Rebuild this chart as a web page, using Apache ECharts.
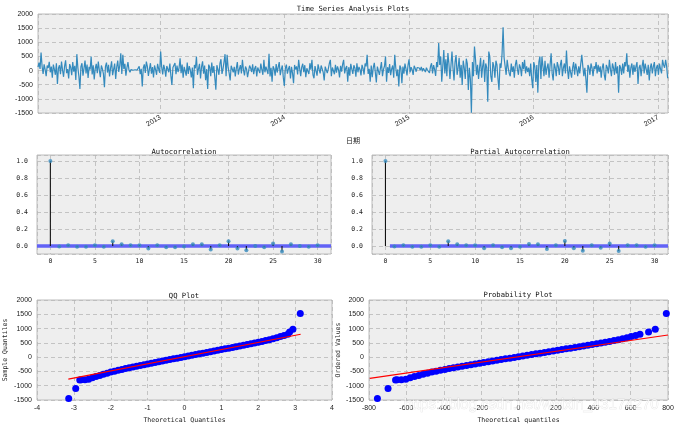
<!DOCTYPE html>
<html><head><meta charset="utf-8">
<script src="https://cdn.jsdelivr.net/npm/echarts@6/dist/echarts.min.js"></script>
<style>html,body{margin:0;padding:0;background:#fff}#c{width:677px;height:425px}</style>
</head><body><div id="c"></div>
<script>
// ---------------- DATA ----------------
const seriesStart = [2012, 0, 8];   // first observation (y, m0, d)
const seriesStepDays = 3;           // spacing between read-off observations
const tsValues = [
 120, 280, 60, 637, 150, -120, 220, 30, -200, 180,
 90, 310, -60, 140, -250, 210, 40, -150, 260, -470,
 80, 190, -130, 320, 20, -220, 150, 360, -90, 50,
 -280, 230, 110, -160, 300, -40, 170, -330, 580, 100,
 -200, -650, 140, 260, -180, 80, 350, -100, 210, -260,
 130, 40, 500, -140, 190, -310, 70, 240, -90, 320,
 10, -230, 180, 60, -120, -590, 150, 280, -70, 200,
 -210, 90, 330, -160, 40, 250, -300, 120, 350, -50,
 180, 610, -120, 555, 60, 240, -180, 100, 300, 20,
 -60, 40, 80, 10, 60, 30, 90, 20, -40, 150,
 -130, 60, -566, 90, 220, -80, 320, 140, -190, 50,
 260, -110, 120, -240, 180, 30, -150, 240, 60, -80,
 670, 120, -140, 200, 50, -220, 160, 90, -60, 250,
 -180, -507, 110, 40, 270, -130, 180, -50, 90, 436,
 -90, 210, -250, 130, 60, -180, 280, -120, 160, 20,
 -240, 110, -625, 200, 80, 500, -150, 60, 240, -280,
 130, 330, -110, 180, -340, 50, -650, 210, 120, -200,
 280, -80, 160, -260, -680, 190, 40, -150, 250, 400,
 -120, 60, 310, 580, -200, 555, 110, -90, -350, 170,
 240, -60, 130, -210, 80, 300, -140, 50, 190, -100,
 380, 20, -170, 140, 60, -230, -270, 180, 90, -50,
 220, -130, 70, 160, -210, 110, 40, -90, 250, 30,
 -150, 380, -60, 140, 200, -120, 590, -210, 100, -390,
 150, 60, -180, 230, -70, 120, 300, -160, 40, 180,
 -250, -540, 90, 210, -110, 60, 160, -280, 130, -90,
 -450, 200, 40, 150, -140, 380, 70, -200, 120, 240,
 -60, 190, -230, 80, 140, -120, 260, 30, 380, -150,
 -270, 160, 90, -180, 220, 50, -100, 180, 120, -60,
 -350, 140, 210, -90, 60, 250, 380, -200, 110, 40,
 -130, 200, -70, 150, 30, -240, 170, -40, 220, 380,
 -100, 80, 160, -390, 120, -180, 240, 50, -120, 190,
 90, -220, 260, -60, 130, 40, -170, 200, 80, -140,
 250, 150, 555, -120, 60, -390, 180, -230, 100, 270,
 -60, -420, 140, 210, -150, 80, 300, -200, 40, 160,
 500, -390, 120, -80, 230, -160, 60, 180, -250, 555,
 100, -200, 40, -566, 180, 90, -450, 140, -110, 250,
 60, -170, 190, 400, -60, 120, 30, -150, 170, 80,
 -40, 110, 40, 90, 10, 130, -30, 80, 60, -50,
 100, 20, 70, -80, 150, 260, -100, 190, 40, -190,
 300, 120, 970, 200, 500, -390, 150, 730, -100, 400,
 -200, 620, 250, -300, 180, 670, 80, -350, 300, 550,
 -150, 100, 450, -250, 200, -510, 350, 100, -300, 420,
 250, -685, 100, -300, -1490, 300, -200, 850, 400, -150,
 200, -300, 100, 450, -250, 150, 380, -400, 250, 100,
 -1100, 670, 500, -200, -400, 300, 150, -250, 350, 200,
 -300, -685, 250, 100, 600, 1535, 450, 150, -150, 380,
 100, -100, -200, 250, -50, 150, -250, 200, 380, 50,
 -150, 220, 100, -200, 300, 50, 380, -100, 150, -50,
 100, -200, 250, -300, -625, 300, 150, -400, 200, -780,
 300, 500, -300, 500, 150, -200, 350, -150, 100, 250,
 -250, 200, 613, -100, -350, 250, 100, -200, 300, 150,
 -150, 200, 380, -200, 100, 250, -100, 708, 50, -300,
 150, 200, -250, 100, 300, -150, 250, 50, -200, 150,
 -100, 250, 555, 150, -200, 100, -300, -780, 200, 100,
 -150, 250, 100, -200, 150, 50, 300, -100, 200, -50,
 150, -250, 100, 250, -150, -350, 200, 100, -100, 380,
 50, -200, 250, 100, -150, 300, -100, 150, -780, 200,
 100, -150, 250, -100, 300, 150, 613, -50, 200, -250,
 100, 250, -150, 200, -50, 150, 300, -470, 100, 200,
 -200, 150, 380, -100, 250, 50, -150, 200, -350, 100,
 250, -100, 150, 300, -200, 100, 200, -150, 250, 50,
 -100, 380, 200, 100, 380, 150, -270
];
const tsRange = [[2012, 0, 8], [2017, 0, 30]];

const lags = [0,1,2,3,4,5,6,7,8,9,10,11,12,13,14,15,16,17,18,19,20,21,22,23,24,25,26,27,28,29,30];
const acfValues = [1.0, -0.005, 0.01, -0.01, -0.01, 0.01, -0.01, 0.055, 0.02, 0.01, 0.01, -0.03, 0.01, -0.015, -0.015, -0.005, 0.02, 0.02, -0.04, 0.01, 0.055, -0.03, -0.05, 0.0, -0.015, 0.03, -0.065, 0.02, 0.0, -0.01, 0.01];
const pacfValues = [1.0, -0.005, 0.01, -0.01, -0.01, 0.01, -0.01, 0.055, 0.02, 0.01, 0.01, -0.025, 0.01, -0.015, -0.025, -0.01, 0.025, 0.02, -0.035, 0.01, 0.06, -0.025, -0.055, 0.01, -0.02, 0.03, -0.06, 0.01, 0.01, -0.01, 0.01];
const confBand = 0.02;

const qqTheoretical = [-3.14, -2.95, -2.84,
 -2.8, -2.7, -2.6, -2.5, -2.4, -2.3, -2.2, -2.1, -2.0, -1.9, -1.8, -1.7, -1.6, -1.5, -1.4, -1.3, -1.2, -1.1,
 -1.0, -0.9, -0.8, -0.7, -0.6, -0.5, -0.4, -0.3, -0.2, -0.1, 0.0, 0.1, 0.2, 0.3, 0.4, 0.5, 0.6, 0.7, 0.8, 0.9,
 1.0, 1.1, 1.2, 1.3, 1.4, 1.5, 1.6, 1.7, 1.8, 1.9, 2.0, 2.1, 2.2, 2.3, 2.4, 2.5, 2.6, 2.7, 2.8,
 2.85, 2.94, 3.14];
const orderedValues = [-1450, -1100, -800,
 -795, -790, -770, -720, -680, -640, -600, -560, -520, -490, -460, -430, -400, -375, -345, -320, -290, -265,
 -240, -215, -185, -160, -135, -110, -85, -60, -35, -10, 15, 40, 65, 90, 115, 140, 165, 190, 215, 240,
 265, 290, 315, 340, 365, 390, 415, 440, 465, 495, 520, 550, 580, 610, 645, 680, 720, 760, 800,
 880, 975, 1530];
const probTheoretical = [-755, -698, -658,
 -650, -627, -603, -580, -557, -534, -511, -487, -464, -441, -418, -394, -371, -348, -325, -302, -278, -255,
 -232, -209, -186, -162, -139, -116, -93, -70, -46, -23, 0, 23, 46, 70, 93, 116, 139, 162, 186, 209,
 232, 255, 278, 302, 325, 348, 371, 394, 418, 441, 464, 487, 511, 534, 557, 580, 603, 627, 650,
 696, 732, 791];
const qqFitLine = [[-3.15, -770], [3.15, 800]];
const probFitLine = [[-796, -745], [800, 775]];

const titles = ['Time Series Analysis Plots', 'Autocorrelation', 'Partial Autocorrelation', 'QQ Plot', 'Probability Plot'];
const watermark = 'https://blog.csdn.net/weixin_43174270';

// ---------------- CHART ----------------
const chart = echarts.init(document.getElementById('c'), null, {renderer: 'canvas'});
const tsData = tsValues.map((v, i) => [new Date(seriesStart[0], seriesStart[1], seriesStart[2] + i * seriesStepDays), v]);

const mono = '"DejaVu Sans Mono", monospace';
const sans = '"Liberation Sans", Arial, sans-serif';
const gridStyle = {show: true, backgroundColor: '#eeeeee', borderColor: '#bcbcbc', borderWidth: 1, containLabel: false};
const split = {show: true, lineStyle: {color: '#b8b8b8', type: [4, 3], width: 0.8}};
const plain = (v) => String(v);
const lbl = (extra) => Object.assign({color: '#222', fontSize: 7, fontFamily: sans, formatter: plain}, extra || {});
function baseAxis(o) {
  return Object.assign({axisLine: {show: false}, axisTick: {show: false}, splitLine: split}, o);
}

const grids = [
  Object.assign({left: 38, top: 14, width: 630, height: 99}, gridStyle),
  Object.assign({left: 37, top: 155, width: 294, height: 99}, gridStyle),
  Object.assign({left: 372, top: 155, width: 296, height: 99}, gridStyle),
  Object.assign({left: 37, top: 300, width: 295, height: 100}, gridStyle),
  Object.assign({left: 369, top: 300, width: 299, height: 100}, gridStyle)
];

const acfLabelFmt = (v) => {
  if (Math.abs(v * 5 - Math.round(v * 5)) > 1e-6) return '';
  return v.toFixed(1);
};
const lagFmt = (v) => (Math.abs(v % 5) < 1e-6 ? String(v) : '');

const xAxes = [
  baseAxis({gridIndex: 0, type: 'time',
    min: new Date(tsRange[0][0], tsRange[0][1], tsRange[0][2]).getTime(),
    max: new Date(tsRange[1][0], tsRange[1][1], tsRange[1][2]).getTime(),
    minInterval: 365 * 864e5, splitNumber: 5,
    name: '日期', nameLocation: 'middle', nameGap: 24,
    nameTextStyle: {fontSize: 7, color: '#222', fontFamily: '"Noto Sans CJK SC"'},
    axisLabel: lbl({rotate: 30, margin: 4, hideOverlap: false, showMinLabel: true, showMaxLabel: true,
      formatter: (v) => { const d = new Date(v); return (d.getMonth() === 0 && d.getDate() === 1) ? String(d.getFullYear()) : ''; }})
  }),
  baseAxis({gridIndex: 1, type: 'value', min: -1.5, max: 31.5, splitNumber: 6,
    axisLabel: lbl({fontFamily: mono, fontSize: 6.5, margin: 4, formatter: lagFmt})}),
  baseAxis({gridIndex: 2, type: 'value', min: -1.5, max: 31.5, splitNumber: 6,
    axisLabel: lbl({fontFamily: mono, fontSize: 6.5, margin: 4, formatter: lagFmt})}),
  baseAxis({gridIndex: 3, type: 'value', min: -4, max: 4, interval: 1,
    name: 'Theoretical Quantiles', nameLocation: 'middle', nameGap: 17,
    nameTextStyle: {fontSize: 6.5, color: '#222', fontFamily: mono},
    axisLabel: lbl({margin: 5})}),
  baseAxis({gridIndex: 4, type: 'value', min: -800, max: 800, interval: 200,
    name: 'Theoretical quantiles', nameLocation: 'middle', nameGap: 17,
    nameTextStyle: {fontSize: 6.5, color: '#222', fontFamily: mono},
    axisLabel: lbl({margin: 5})})
];
const yAxes = [
  baseAxis({gridIndex: 0, type: 'value', min: -1500, max: 2000, interval: 500, axisLabel: lbl({margin: 5})}),
  baseAxis({gridIndex: 1, type: 'value', min: -0.094, max: 1.07, splitNumber: 5,
    axisLabel: lbl({fontFamily: mono, fontSize: 6.5, margin: 9, formatter: acfLabelFmt})}),
  baseAxis({gridIndex: 2, type: 'value', min: -0.094, max: 1.07, splitNumber: 5,
    axisLabel: lbl({fontFamily: mono, fontSize: 6.5, margin: 9, formatter: acfLabelFmt})}),
  baseAxis({gridIndex: 3, type: 'value', min: -1500, max: 2000, interval: 500,
    name: 'Sample Quantiles', nameLocation: 'middle', nameGap: 28,
    nameTextStyle: {fontSize: 6.5, color: '#222', fontFamily: mono},
    axisLabel: lbl({margin: 5})}),
  baseAxis({gridIndex: 4, type: 'value', min: -1500, max: 2000, interval: 500,
    name: 'Ordered Values', nameLocation: 'middle', nameGap: 26,
    nameTextStyle: {fontSize: 6.5, color: '#222', fontFamily: mono},
    axisLabel: lbl({margin: 5})})
];

function stemSeries(idx, vals, bandStart) {
  const data = lags.map((l, i) => [l, vals[i]]);
  return [
    {type: 'custom', xAxisIndex: idx, yAxisIndex: idx, data: data, z: 3,
      encode: {x: 0, y: 1},
      renderItem: (params, api) => {
        const p0 = api.coord([api.value(0), 0]);
        const p1 = api.coord([api.value(0), api.value(1)]);
        return {type: 'line', shape: {x1: p0[0], y1: p0[1], x2: p1[0], y2: p1[1]},
          style: {stroke: '#111', lineWidth: 1.1}};
      },
      markArea: {silent: true, itemStyle: {color: '#6262f6', opacity: 1},
        data: [[{xAxis: bandStart, yAxis: -confBand}, {xAxis: 31.5, yAxis: confBand}]]}
    },
    {type: 'scatter', xAxisIndex: idx, yAxisIndex: idx, data: data, z: 4,
      symbolSize: 4, itemStyle: {color: '#348ABD'}}
  ];
}

const option = {
  animation: false,
  backgroundColor: '#ffffff',
  grid: grids,
  xAxis: xAxes,
  yAxis: yAxes,
  series: [
    {type: 'line', xAxisIndex: 0, yAxisIndex: 0, data: tsData, showSymbol: false, sampling: 'none',
      lineStyle: {color: '#348ABD', width: 1.2}, z: 3},
    ...stemSeries(1, acfValues, -1.5),
    ...stemSeries(2, pacfValues, 0.5),
    {type: 'scatter', xAxisIndex: 3, yAxisIndex: 3, data: qqTheoretical.map((q, i) => [q, orderedValues[i]]),
      symbolSize: 7, itemStyle: {color: '#0000ff', opacity: 1}, z: 3},
    {type: 'line', xAxisIndex: 3, yAxisIndex: 3, data: qqFitLine, showSymbol: false,
      lineStyle: {color: '#ff0000', width: 1.2}, z: 4},
    {type: 'scatter', xAxisIndex: 4, yAxisIndex: 4, data: probTheoretical.map((q, i) => [q, orderedValues[i]]),
      symbolSize: 7, itemStyle: {color: '#0000ff', opacity: 1}, z: 3},
    {type: 'line', xAxisIndex: 4, yAxisIndex: 4, data: probFitLine, showSymbol: false,
      lineStyle: {color: '#ff0000', width: 1.2}, z: 4}
  ],
  graphic: [
    {type: 'text', x: 353, y: 9, style: {text: titles[0], textAlign: 'center', textVerticalAlign: 'middle', font: '7.2px ' + mono, fill: '#111'}},
    {type: 'text', x: 184, y: 152, style: {text: titles[1], textAlign: 'center', textVerticalAlign: 'middle', font: '7.2px ' + mono, fill: '#111'}},
    {type: 'text', x: 520, y: 152, style: {text: titles[2], textAlign: 'center', textVerticalAlign: 'middle', font: '7.2px ' + mono, fill: '#111'}},
    {type: 'text', x: 184, y: 296, style: {text: titles[3], textAlign: 'center', textVerticalAlign: 'middle', font: '7.2px ' + mono, fill: '#111'}},
    {type: 'text', x: 518, y: 295, style: {text: titles[4], textAlign: 'center', textVerticalAlign: 'middle', font: '7.2px ' + mono, fill: '#111'}},
    {type: 'text', x: 531, y: 405, z: 100, style: {text: watermark, textAlign: 'center', textVerticalAlign: 'middle',
      font: '15px "Liberation Sans", Arial, sans-serif', fill: 'rgba(255,255,255,0.75)', stroke: 'rgba(170,170,170,0.35)', lineWidth: 0.6}}
  ]
};
chart.setOption(option);
</script></body></html>
